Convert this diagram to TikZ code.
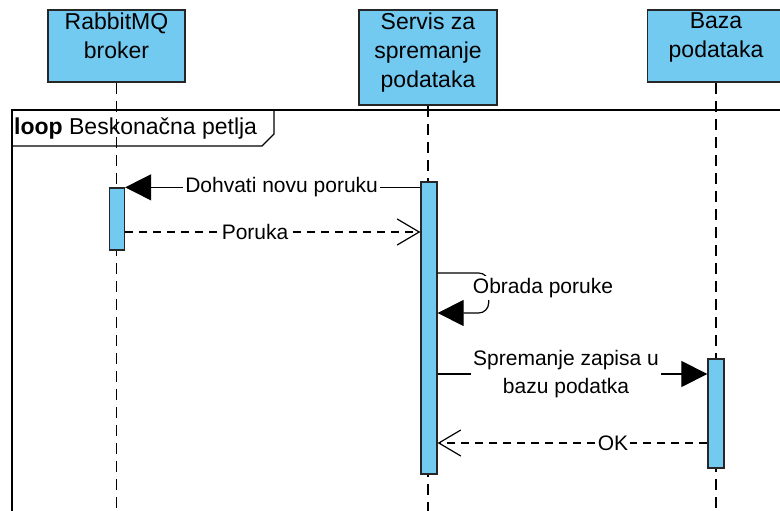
\documentclass[tikz,border=0pt]{standalone}
\usepackage{fontspec}
\setmainfont{Liberation Sans}
\usetikzlibrary{arrows.meta}
\definecolor{boxblue}{RGB}{115,202,241}

\begin{document}
\begin{tikzpicture}[x=1pt, y=-1pt,
    party/.style={draw=black!85, line width=1.6pt, fill=boxblue, inner sep=0pt},
    partytext/.style={align=center, font=\fontsize{23}{29}\selectfont, inner sep=0pt, anchor=north},
    bar/.style={draw=black!85, line width=1.3pt, fill=boxblue, minimum width=15pt, inner sep=0pt},
    lifeline/.style={line width=1.3pt, dash pattern=on 11pt off 7pt},
    call/.style={line width=1.2pt, -{Triangle[length=26pt, width=26pt]}},
    reply/.style={line width=1.2pt, dash pattern=on 8pt off 6pt, -{Straight Barb[length=22pt, width=26pt]}},
    msg/.style={fill=white, inner sep=2pt, align=center, font=\fontsize{21}{28}\selectfont}]
  \useasboundingbox (0,0) rectangle (780,511);
  \clip (0,0) rectangle (780,511);

  \coordinate (y2) at (0,232);
  \coordinate (y3) at (0,273);
  \coordinate (y4) at (0,313);
  \coordinate (y5) at (0,374);
  \coordinate (y6) at (0,443);
  \coordinate (bottom) at (0,520);

  \node[party, minimum width=137pt, minimum height=72pt] (rab) at (116.5,46) {};
  \node[party, minimum width=138pt, minimum height=95pt] (srv) at (428,57.5) {};
  \node[party, minimum width=137pt, minimum height=72pt] (baz) at (716,46) {};
  \node[partytext] (rabt) at (116.5,12.5) {RabbitMQ\\broker};
  \node[partytext] (srvt) at (428,12.5) {Servis za\\spremanje\\podataka};
  \node[partytext] (bazt) at (716,12.5) {Baza\\podataka};

  \draw[line width=1.4pt] (12,530) -- (12,110) -- (800,110);
  \draw[line width=1.4pt] (12,146) -- (262,146) -- (274,134) -- (274,110);
  \node[anchor=base west, inner sep=0pt, font=\fontsize{23}{29}\selectfont] (loop) at (14,135) {\textbf{loop} Beskonačna petlja};

  \draw[lifeline] (rab.south) -- (rab.south |- bottom);
  \draw[lifeline] (srv.south) -- (srv.south |- bottom);
  \draw[lifeline] (baz.south) -- (baz.south |- bottom);

  \node[bar, minimum height=62pt] (rabbar) at (117,219) {};
  \node[bar, minimum width=16pt, minimum height=292pt] (srvbar) at (429,328) {};
  \node[bar, minimum width=16pt, minimum height=109pt] (bazbar) at (716,413.5) {};

  \draw[call] (srvbar.west |- rabbar.north) -- node[msg, pos=0.47] (m1) {Dohvati novu poruku} (rabbar.north east);
  \draw[reply] (rabbar.east |- y2) -- node[msg, pos=0.44] (m2) {Poruka} (srvbar.west |- y2);
  \draw[call, rounded corners=10pt] (srvbar.east |- y3) -- ++(51,0) -- ++(0,40) -- (srvbar.east |- y4);
  \node[msg] (m3) at (543,288) {Obrada poruke};
  \draw[call] (srvbar.east |- y5) -- node[msg, pos=0.476] (m5) {Spremanje zapisa u\\bazu podatka} (bazbar.west |- y5);
  \draw[reply] (bazbar.west |- y6) -- node[msg, pos=0.35] (m6) {OK} (srvbar.east |- y6);
\end{tikzpicture}
\end{document}
